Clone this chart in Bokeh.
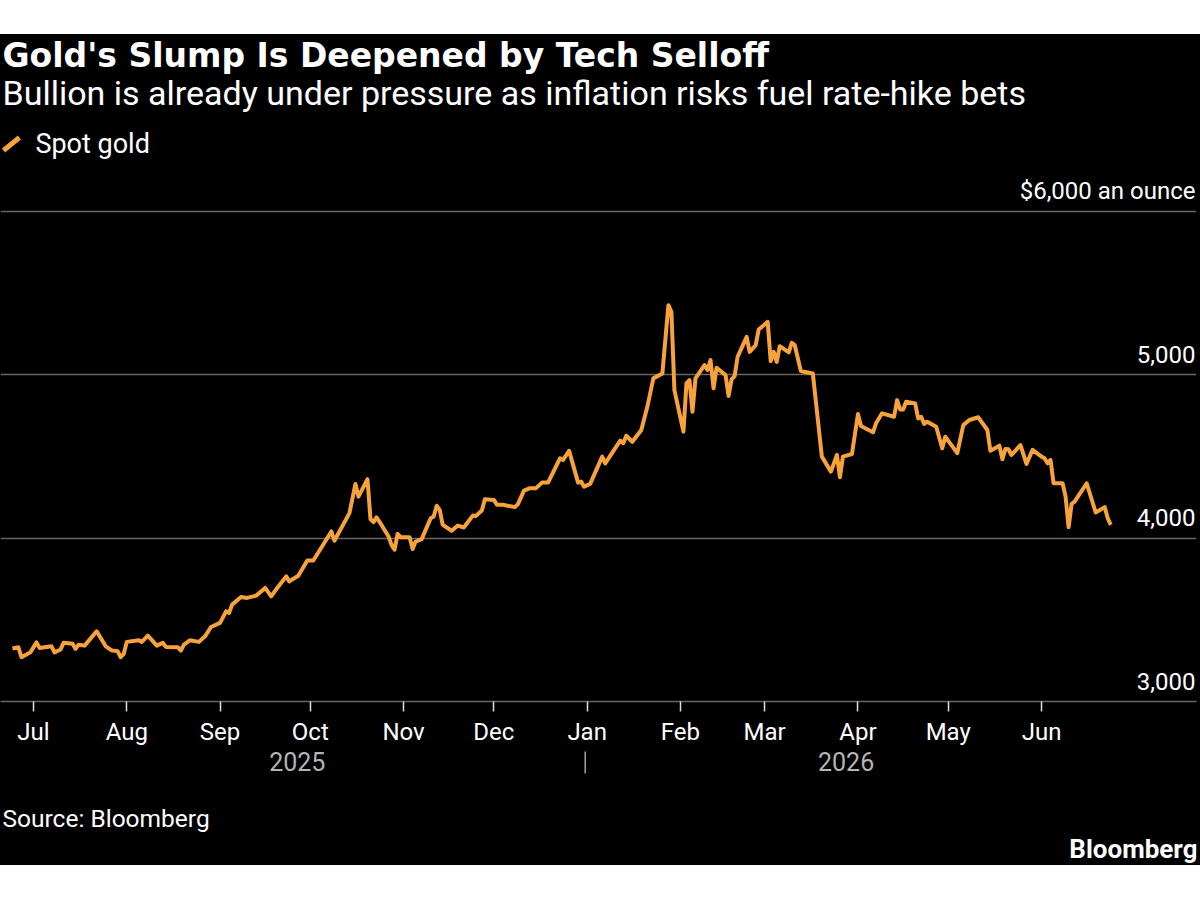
from datetime import datetime

import pandas as pd
from bokeh.core.properties import value
from bokeh.embed import file_html
from bokeh.layouts import column
from bokeh.models import (ColumnDataSource, DatetimeTickFormatter, FixedTicker,
                          Label, Range1d, Spacer)
from bokeh.plotting import figure
from bokeh.resources import INLINE

# ---------------------------------------------------------------- data
dates = [
    "2025-06-24", "2025-06-26", "2025-06-27", "2025-06-30", "2025-07-02", "2025-07-03",
    "2025-07-07", "2025-07-08", "2025-07-10", "2025-07-11", "2025-07-14", "2025-07-15",
    "2025-07-16", "2025-07-18", "2025-07-22", "2025-07-25", "2025-07-27", "2025-07-29",
    "2025-07-30", "2025-07-31", "2025-08-01", "2025-08-05", "2025-08-06", "2025-08-08",
    "2025-08-11", "2025-08-13", "2025-08-14", "2025-08-18", "2025-08-19", "2025-08-20",
    "2025-08-22", "2025-08-25", "2025-08-27", "2025-08-29", "2025-09-01", "2025-09-03",
    "2025-09-04", "2025-09-05", "2025-09-08", "2025-09-10", "2025-09-13", "2025-09-16",
    "2025-09-18", "2025-09-20", "2025-09-23", "2025-09-24", "2025-09-27", "2025-09-30",
    "2025-10-02", "2025-10-08", "2025-10-09", "2025-10-14", "2025-10-16", "2025-10-17",
    "2025-10-20", "2025-10-21", "2025-10-22", "2025-10-23", "2025-10-24", "2025-10-27",
    "2025-10-28", "2025-10-29", "2025-10-30", "2025-10-31", "2025-11-03", "2025-11-04",
    "2025-11-05", "2025-11-07", "2025-11-10", "2025-11-11", "2025-11-12", "2025-11-13",
    "2025-11-14", "2025-11-17", "2025-11-19", "2025-11-21", "2025-11-24", "2025-11-25",
    "2025-11-27", "2025-11-28", "2025-12-01", "2025-12-02", "2025-12-04", "2025-12-08",
    "2025-12-09", "2025-12-11", "2025-12-13", "2025-12-15", "2025-12-17", "2025-12-19",
    "2025-12-23", "2025-12-24", "2025-12-26", "2025-12-29", "2025-12-30", "2025-12-31",
    "2026-01-02", "2026-01-06", "2026-01-07", "2026-01-12", "2026-01-13", "2026-01-14",
    "2026-01-16", "2026-01-19", "2026-01-21", "2026-01-23", "2026-01-26", "2026-01-28",
    "2026-01-29", "2026-01-30", "2026-02-02", "2026-02-03", "2026-02-04", "2026-02-05",
    "2026-02-06", "2026-02-09", "2026-02-10", "2026-02-11", "2026-02-12", "2026-02-13",
    "2026-02-16", "2026-02-17", "2026-02-18", "2026-02-19", "2026-02-20", "2026-02-23",
    "2026-02-24", "2026-02-26", "2026-02-27", "2026-03-02", "2026-03-03", "2026-03-04",
    "2026-03-05", "2026-03-06", "2026-03-09", "2026-03-10", "2026-03-11", "2026-03-13",
    "2026-03-14", "2026-03-17", "2026-03-20", "2026-03-23", "2026-03-25", "2026-03-26",
    "2026-03-27", "2026-03-30", "2026-04-01", "2026-04-02", "2026-04-06", "2026-04-07",
    "2026-04-09", "2026-04-13", "2026-04-14", "2026-04-15", "2026-04-16", "2026-04-17",
    "2026-04-20", "2026-04-21", "2026-04-22", "2026-04-23", "2026-04-24", "2026-04-27",
    "2026-04-29", "2026-04-30", "2026-05-04", "2026-05-06", "2026-05-08", "2026-05-11",
    "2026-05-12", "2026-05-14", "2026-05-15", "2026-05-18", "2026-05-19", "2026-05-20",
    "2026-05-21", "2026-05-22", "2026-05-25", "2026-05-27", "2026-05-29", "2026-06-01",
    "2026-06-02", "2026-06-03", "2026-06-04", "2026-06-05", "2026-06-08", "2026-06-09",
    "2026-06-10", "2026-06-11", "2026-06-12", "2026-06-16", "2026-06-19", "2026-06-22",
    "2026-06-23", "2026-06-24",
]

spot_gold = [
    3324, 3332, 3271, 3301, 3362, 3328, 3338, 3301, 3318, 3359, 3353, 3322,
    3348, 3342, 3430, 3338, 3313, 3307, 3271, 3291, 3365, 3375, 3365, 3403,
    3342, 3359, 3334, 3332, 3312, 3348, 3375, 3365, 3399, 3456, 3481, 3552,
    3542, 3593, 3640, 3634, 3648, 3695, 3643, 3695, 3766, 3735, 3770, 3863,
    3863, 4041, 3984, 4153, 4332, 4254, 4361, 4117, 4098, 4127, 4100, 4010,
    3959, 3929, 4026, 4006, 4006, 3933, 3979, 3994, 4122, 4132, 4198, 4173,
    4081, 4045, 4077, 4065, 4138, 4136, 4169, 4238, 4234, 4204, 4204, 4190,
    4208, 4291, 4306, 4306, 4340, 4340, 4489, 4479, 4534, 4340, 4346, 4315,
    4332, 4499, 4458, 4597, 4581, 4627, 4590, 4662, 4804, 4978, 5008, 5426,
    5385, 4906, 4652, 4947, 4967, 4774, 4978, 5059, 5029, 5090, 4917, 5043,
    4998, 4870, 4972, 4992, 5110, 5232, 5140, 5181, 5277, 5324, 5084, 5140,
    5079, 5175, 5137, 5195, 5181, 5024, 5018, 5008, 4499, 4407, 4509, 4373,
    4499, 4515, 4760, 4686, 4648, 4703, 4764, 4743, 4845, 4788, 4788, 4835,
    4825, 4733, 4743, 4699, 4713, 4682, 4550, 4621, 4520, 4692, 4723, 4740,
    4713, 4662, 4535, 4566, 4483, 4546, 4544, 4509, 4570, 4454, 4540, 4499,
    4489, 4458, 4479, 4336, 4336, 4254, 4067, 4210, 4224, 4336, 4157, 4190,
    4122, 4081,
]

month_ticks = [
    "2025-07-01", "2025-08-01", "2025-09-01", "2025-10-01", "2025-11-01", "2025-12-01",
    "2026-01-01", "2026-02-01", "2026-03-01", "2026-04-01", "2026-05-01", "2026-06-01",
]
year_labels = ["2025", "2026"]

y_ticks = [3000, 4000, 5000, 6000]
y_tick_labels = ["3,000", "4,000", "5,000", "$6,000 an ounce"]

title = "Gold's Slump Is Deepened by Tech Selloff"
subtitle = "Bullion is already under pressure as inflation risks fuel rate-hike bets"
series_name = "Spot gold"
source_note = "Source: Bloomberg"
brand = "Bloomberg"

# ---------------------------------------------------------------- style
GOLD = "#F7A23B"
GRID = "#666666"
YEAR_GREY = "#b4b4b4"
FONT = "Roboto"
TITLE_FONT = "DejaVu Sans"
DESCENT = 0.3      # text sits this fraction of its size above the anchor

W = 1200
TOP_GAP = 34       # white band above the black panel
HEAD_H = 136       # title block
CHART_H = 578      # plot incl. month axis
FOOT_H = 117       # years, source, brand
PLOT_BOTTOM = 532  # frame height inside the chart figure
RIGHT_PAD = 4

x_start = datetime(2025, 6, 20, 1)
x_end = datetime(2026, 7, 22, 12)
y_lo = 3000
y_hi = y_lo + PLOT_BOTTOM * 3000 / 491   # 491 px per 3,000


def ms(ts):
    return pd.Timestamp(ts).value / 1e6


def base(y, size):
    """Anchor for a text whose baseline should fall at y (y grows downward)."""
    return y - DESCENT * size


def panel(height, x_range, y_range):
    return figure(width=W, height=height, x_range=x_range, y_range=y_range,
                  x_axis_type=None, y_axis_type=None,
                  output_backend="svg", toolbar_location=None,
                  min_border=0, min_border_left=0, min_border_right=0,
                  min_border_top=0, min_border_bottom=0,
                  background_fill_color="black", border_fill_color="black",
                  outline_line_color=None,
                  styles={"background-color": "black"})


# ---------------------------------------------------------------- header
head = panel(HEAD_H, Range1d(0, W), Range1d(HEAD_H, 0))
head.text(x=[2], y=[base(31, 33)], text=[title], text_color="white",
          text_font=value(TITLE_FONT), text_font_style="bold",
          text_font_size="33px", text_baseline="alphabetic")
head.text(x=[2], y=[base(69, 34)], text=[subtitle], text_color="white",
          text_font=value(FONT), text_font_size="34px",
          text_baseline="alphabetic")
head.segment(x0=[3], y0=[116], x1=[19], y1=[103], line_color=GOLD,
             line_width=5)
head.text(x=[35], y=[base(118, 27)], text=[series_name], text_color="white",
          text_font=value(FONT), text_font_size="27px",
          text_baseline="alphabetic")

# ---------------------------------------------------------------- chart
src = ColumnDataSource(dict(date=pd.to_datetime(dates), price=spot_gold))

p = figure(
    width=W, height=CHART_H,
    x_axis_type="datetime",
    x_range=Range1d(x_start, x_end),
    y_range=Range1d(y_lo, y_hi),
    output_backend="svg", toolbar_location=None,
    min_border_left=0, min_border_right=RIGHT_PAD,
    min_border_top=0, min_border_bottom=CHART_H - PLOT_BOTTOM,
    background_fill_color="black", border_fill_color="black",
    outline_line_color=None,
    styles={"background-color": "black"},
)

p.xgrid.visible = False
p.ygrid.ticker = FixedTicker(ticks=y_ticks)
p.ygrid.grid_line_color = GRID
p.ygrid.grid_line_width = 1.5
p.yaxis.visible = False

xa = p.xaxis[0]
xa.ticker = FixedTicker(ticks=[ms(d) for d in month_ticks])
xa.formatter = DatetimeTickFormatter(
    months="%b", days="%b", hours="%b", years="%b", context=None)
xa.axis_line_color = GRID
xa.axis_line_width = 1.5
xa.major_tick_in = 0
xa.major_tick_out = 10
xa.major_tick_line_color = "#dddddd"
xa.major_tick_line_width = 1.5
xa.minor_tick_line_color = None
xa.major_label_text_color = "white"
xa.major_label_text_font = FONT
xa.major_label_text_font_size = "24px"
xa.major_label_standoff = 6

p.line("date", "price", source=src, line_color=GOLD, line_width=4,
       line_join="round")

# value labels sitting on their rules, right-aligned
for v, lab in zip(y_ticks, y_tick_labels):
    p.add_layout(Label(
        x=W - RIGHT_PAD - 1, y=v, x_units="screen", y_units="data",
        y_offset=13 + DESCENT * 24,
        text=lab, text_color="white", text_font=FONT,
        text_font_size="24px", text_align="right", text_baseline="alphabetic"))

# ---------------------------------------------------------------- footer
# same time scale as the chart, widened to the full panel width
span = pd.Timestamp(x_end) - pd.Timestamp(x_start)
foot_end = pd.Timestamp(x_start) + span * W / (W - RIGHT_PAD)
foot = panel(FOOT_H, Range1d(ms(x_start), ms(foot_end)), Range1d(FOOT_H, 0))

d0, d1 = pd.Timestamp(dates[0]), pd.Timestamp(dates[-1])
mids = []
for yl in year_labels:
    a = max(d0, pd.Timestamp(f"{yl}-01-01"))
    b = min(d1, pd.Timestamp(f"{yl}-12-31"))
    mids.append(ms(a + (b - a) / 2))
foot.text(x=mids, y=[base(20, 25)] * len(mids), text=year_labels,
          text_color=YEAR_GREY, text_font=value(FONT), text_font_size="25px",
          text_align="center", text_baseline="alphabetic")

jan = ms(year_labels[1] + "-01-01")
foot.segment(x0=[jan], y0=[3], x1=[jan], y1=[25], line_color="#cccccc",
             line_width=1.2)

foot.add_layout(Label(x=2, y=base(77, 24.5), x_units="screen", y_units="data",
                      text=source_note, text_color="white", text_font=FONT,
                      text_font_size="24.5px", text_baseline="alphabetic"))
foot.add_layout(Label(x=W - 3, y=base(108.5, 26), x_units="screen", y_units="data",
                      text=brand, text_color="white", text_font=FONT,
                      text_font_style="bold", text_font_size="26px",
                      text_align="right", text_baseline="alphabetic"))

top_band = Spacer(width=W, height=TOP_GAP, styles={"background-color": "white"})
layout = column(top_band, head, p, foot, spacing=0,
                styles={"background-color": "black"})
open("out.html", "w").write(file_html(layout, INLINE))
